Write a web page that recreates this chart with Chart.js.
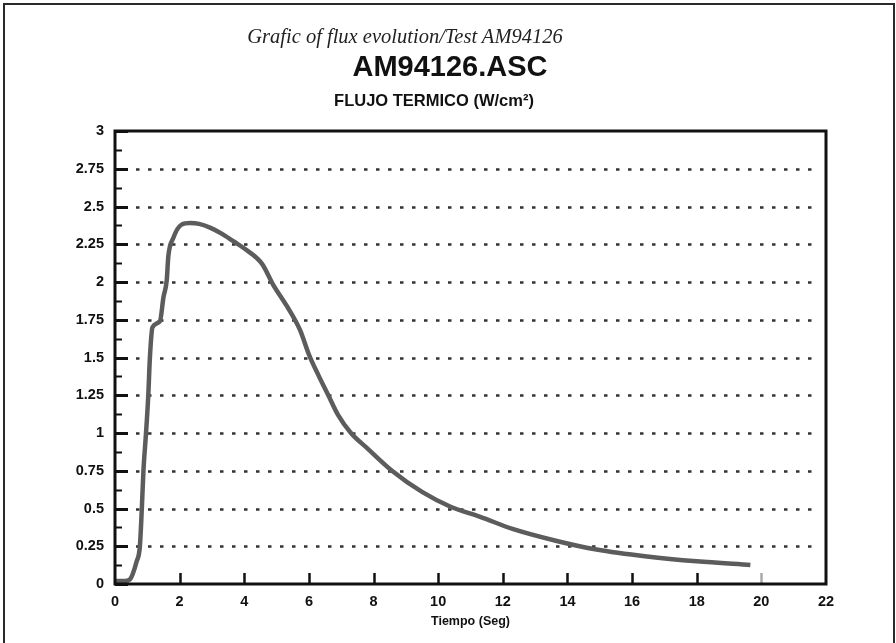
<!DOCTYPE html>
<html><head><meta charset="utf-8">
<script src="https://cdn.jsdelivr.net/npm/chart.js@4.4.1/dist/chart.umd.min.js"></script>
<style>
html,body{margin:0;padding:0;background:#fff;width:896px;height:643px;overflow:hidden;}
#frame{position:absolute;left:3px;top:3px;width:892px;height:700px;border:2px solid #2a2a2a;box-sizing:border-box;}
#c{position:absolute;left:0;top:0;}
.t{position:absolute;white-space:nowrap;color:#111;transform:translateX(-50%);line-height:1;}
#t1{left:405px;top:25px;font:italic 20.5px "Liberation Serif",serif;color:#222;}
#t2{left:450px;top:50px;font:bold 29px "Liberation Sans",Arial,sans-serif;}
#t3{left:434px;top:91px;font:bold 16.5px "Liberation Sans",Arial,sans-serif;}
</style></head>
<body>
<div id="frame"></div>
<canvas id="c" width="896" height="643"></canvas>
<div class="t" id="t1">Grafic of flux evolution/Test AM94126</div>
<div class="t" id="t2">AM94126.ASC</div>
<div class="t" id="t3">FLUJO TERMICO (W/cm²)</div>
<script>
const timeSeg = [0, 0.3, 0.46, 0.67, 0.77, 0.83, 0.88, 0.96, 1.03, 1.08, 1.16, 1.39, 1.5, 1.6, 1.65, 1.8, 2.06, 2.32, 2.6, 2.94, 3.3, 3.66, 4.08, 4.55, 4.9, 5.32, 5.73, 6.0, 6.3, 6.6, 6.9, 7.3, 7.8, 8.57, 9.5, 10.4, 11.3, 12.3, 13.67, 14.9, 16.46, 18.0, 19.66];
const flujo   = [0.02, 0.02, 0.03, 0.15, 0.25, 0.5, 0.75, 1.0, 1.25, 1.5, 1.70, 1.74, 1.9, 2.01, 2.17, 2.29, 2.38, 2.39, 2.385, 2.36, 2.32, 2.27, 2.21, 2.12, 1.98, 1.84, 1.68, 1.52, 1.38, 1.25, 1.12, 1.0, 0.9, 0.75, 0.61, 0.51, 0.445, 0.365, 0.285, 0.228, 0.182, 0.15, 0.126];
const xTickValues = [0, 2, 4, 6, 8, 10, 12, 14, 16, 18, 20, 22];
const xTickLabels = ['0', '2', '4', '6', '8', '10', '12', '14', '16', '18', '20', '22'];
const yTickValues = [0, 0.25, 0.5, 0.75, 1, 1.25, 1.5, 1.75, 2, 2.25, 2.5, 2.75, 3];
const yTickLabels = ['0', '0.25', '0.5', '0.75', '1', '1.25', '1.5', '1.75', '2', '2.25', '2.5', '2.75', '3'];
const xTitle = 'Tiempo (Seg)';

const points = timeSeg.map((t, i) => ({x: t, y: flujo[i]}));

const framePlugin = {
  id: 'frameTicks',
  beforeDatasetsDraw(chart) {
    const {ctx, chartArea: a, scales: {x, y}} = chart;
    ctx.save();
    ctx.strokeStyle = '#333';
    ctx.lineWidth = 2.5;
    ctx.setLineDash([3.5, 8.5]);
    yTickValues.forEach(v => {
      if (v <= 0 || v >= 3) return;
      const py = Math.round(y.getPixelForValue(v)) + 0.5;
      ctx.beginPath(); ctx.moveTo(a.left + 21, py); ctx.lineTo(a.right - 6, py); ctx.stroke();
    });
    ctx.setLineDash([]);
    ctx.strokeStyle = '#111';
    ctx.lineWidth = 3;
    yTickValues.forEach(v => {
      const py = Math.round(y.getPixelForValue(v)) + 0.5;
      ctx.beginPath(); ctx.moveTo(a.left, py); ctx.lineTo(a.left + 13, py); ctx.stroke();
    });
    ctx.lineWidth = 2;
    for (let i = 0; i < yTickValues.length - 1; i++) {
      const v = (yTickValues[i] + yTickValues[i + 1]) / 2;
      const py = Math.round(y.getPixelForValue(v)) + 0.5;
      ctx.beginPath(); ctx.moveTo(a.left, py); ctx.lineTo(a.left + 7, py); ctx.stroke();
    }
    ctx.lineWidth = 2.5;
    xTickValues.forEach(v => {
      if (v <= 0 || v >= 22) return;
      ctx.strokeStyle = v === 20 ? '#aaa' : '#111';
      const px = Math.round(x.getPixelForValue(v)) + 0.5;
      ctx.beginPath(); ctx.moveTo(px, a.bottom); ctx.lineTo(px, a.bottom - 11); ctx.stroke();
    });
    ctx.restore();
  },
  afterDatasetsDraw(chart) {
    const {ctx, chartArea: a} = chart;
    ctx.save();
    ctx.strokeStyle = '#111';
    ctx.lineWidth = 3;
    ctx.strokeRect(a.left, a.top, a.right - a.left, a.bottom - a.top);
    ctx.restore();
  }
};

const labelFont = {family: '"Liberation Sans", Arial, sans-serif', size: 14.5, weight: 'bold', lineHeight: 1};

new Chart(document.getElementById('c'), {
  type: 'line',
  data: {
    datasets: [{
      data: points,
      borderColor: '#5c5c5c',
      borderWidth: 4.5,
      pointRadius: 0,
      cubicInterpolationMode: 'monotone',
      fill: false
    }]
  },
  options: {
    responsive: false,
    animation: false,
    devicePixelRatio: 1,
    layout: {padding: {left: 0, top: 131, right: 70, bottom: 0}},
    plugins: {legend: {display: false}, tooltip: {enabled: false}, title: {display: false}},
    scales: {
      x: {
        type: 'linear', min: 0, max: 22,
        afterBuildTicks: s => { s.ticks = xTickValues.map(v => ({value: v})); },
        afterFit: s => { s.height = 59; },
        ticks: {callback: (v, i) => xTickLabels[i], font: labelFont, color: '#111', padding: 11, maxRotation: 0, autoSkip: false},
        grid: {display: false, drawTicks: false},
        border: {display: false},
        title: {display: true, text: xTitle, color: '#111', font: {family: '"Liberation Sans", Arial, sans-serif', size: 12.5, weight: 'bold', lineHeight: 1}, padding: {top: 0, bottom: 15}}
      },
      y: {
        type: 'linear', min: 0, max: 3,
        afterBuildTicks: s => { s.ticks = yTickValues.map(v => ({value: v})); },
        afterFit: s => { s.width = 115; },
        ticks: {callback: (v, i) => yTickLabels[i], font: labelFont, color: '#111', padding: 11, autoSkip: false},
        grid: {display: false, drawTicks: false},
        border: {display: false}
      }
    }
  },
  plugins: [framePlugin]
});
</script>
</body></html>
